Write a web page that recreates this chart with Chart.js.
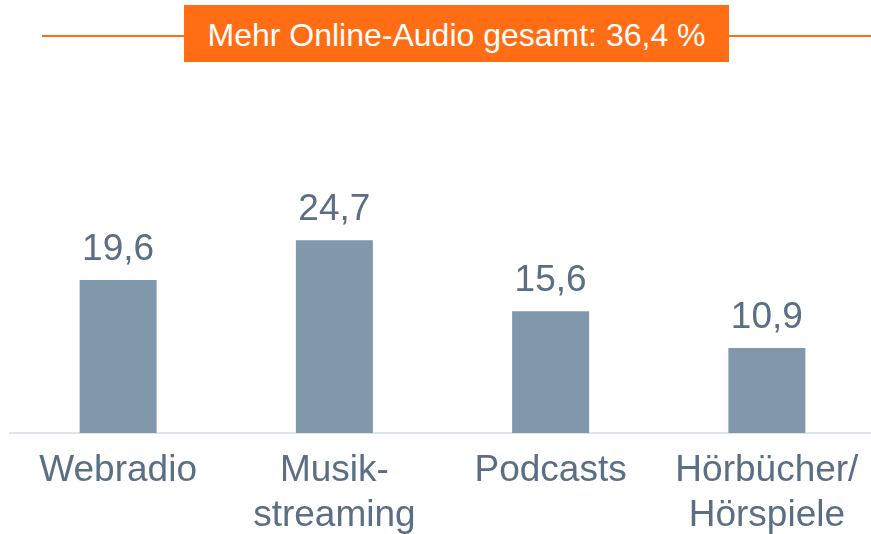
<!DOCTYPE html>
<html lang="de">
<head>
<meta charset="utf-8">
<title>Mehr Online-Audio</title>
<script src="https://cdn.jsdelivr.net/npm/chart.js@4.4.1/dist/chart.umd.min.js"></script>
<style>
  html, body { margin: 0; padding: 0; background: #fff; overflow: hidden; }
  #wrap { position: relative; width: 871px; height: 534px; overflow: hidden; }
  #chart { position: absolute; left: 0; top: 0; }
  .rule { position: absolute; top: 35px; height: 2px; background: #ff6d14; }
  #banner {
    position: absolute; left: 184px; top: 5px; width: 545px; height: 57px;
    background: #ff6d14; color: #fff;
    font-family: "Liberation Sans", Arial, sans-serif; font-size: 32px;
    line-height: 60px; text-align: center; white-space: nowrap;
  }
</style>
</head>
<body>
<div id="wrap">
  <canvas id="chart" width="875" height="534"></canvas>
  <div class="rule" style="left:42px; width:142px;"></div>
  <div class="rule" style="left:729px; width:142px;"></div>
  <div id="banner">Mehr Online-Audio gesamt: 36,4 %</div>
</div>
<script>
// categories (multi-line labels) and values in percent
const categories = [['Webradio'], ['Musik-', 'streaming'], ['Podcasts'], ['Hörbücher/', 'Hörspiele']];
const values = [19.6, 24.7, 15.6, 10.9];

const textColor = '#5a6e86';
const barColor = '#8197ab';

// writes the value above each bar, German decimal comma
const valueLabels = {
  id: 'valueLabels',
  afterDatasetsDraw(chart) {
    const ctx = chart.ctx;
    const meta = chart.getDatasetMeta(0);
    ctx.save();
    ctx.fillStyle = textColor;
    ctx.font = '37px "Liberation Sans", Arial, sans-serif';
    ctx.textAlign = 'center';
    ctx.textBaseline = 'alphabetic';
    meta.data.forEach((bar, i) => {
      const txt = values[i].toFixed(1).replace('.', ',');
      ctx.fillText(txt, bar.x, bar.y - 20);
    });
    ctx.restore();
  }
};

new Chart(document.getElementById('chart').getContext('2d'), {
  type: 'bar',
  data: {
    labels: categories,
    datasets: [{
      data: values,
      backgroundColor: barColor,
      borderWidth: 0,
      barPercentage: 0.356,
      categoryPercentage: 1
    }]
  },
  options: {
    responsive: false,
    animation: false,
    layout: { padding: { left: 10, right: 0, top: 121, bottom: 0 } },
    plugins: { legend: { display: false }, tooltip: { enabled: false } },
    scales: {
      x: {
        grid: { display: false, drawTicks: false },
        border: { display: true, color: '#dfe4ea', width: 2 },
        ticks: {
          color: textColor,
          padding: 15,
          font: { family: '"Liberation Sans", Arial, sans-serif', size: 37, lineHeight: 1.22 }
        },
        afterFit: s => { s.height = 101; }
      },
      y: {
        display: false,
        min: 0,
        max: 40
      }
    }
  },
  plugins: [valueLabels]
});
</script>
</body>
</html>
